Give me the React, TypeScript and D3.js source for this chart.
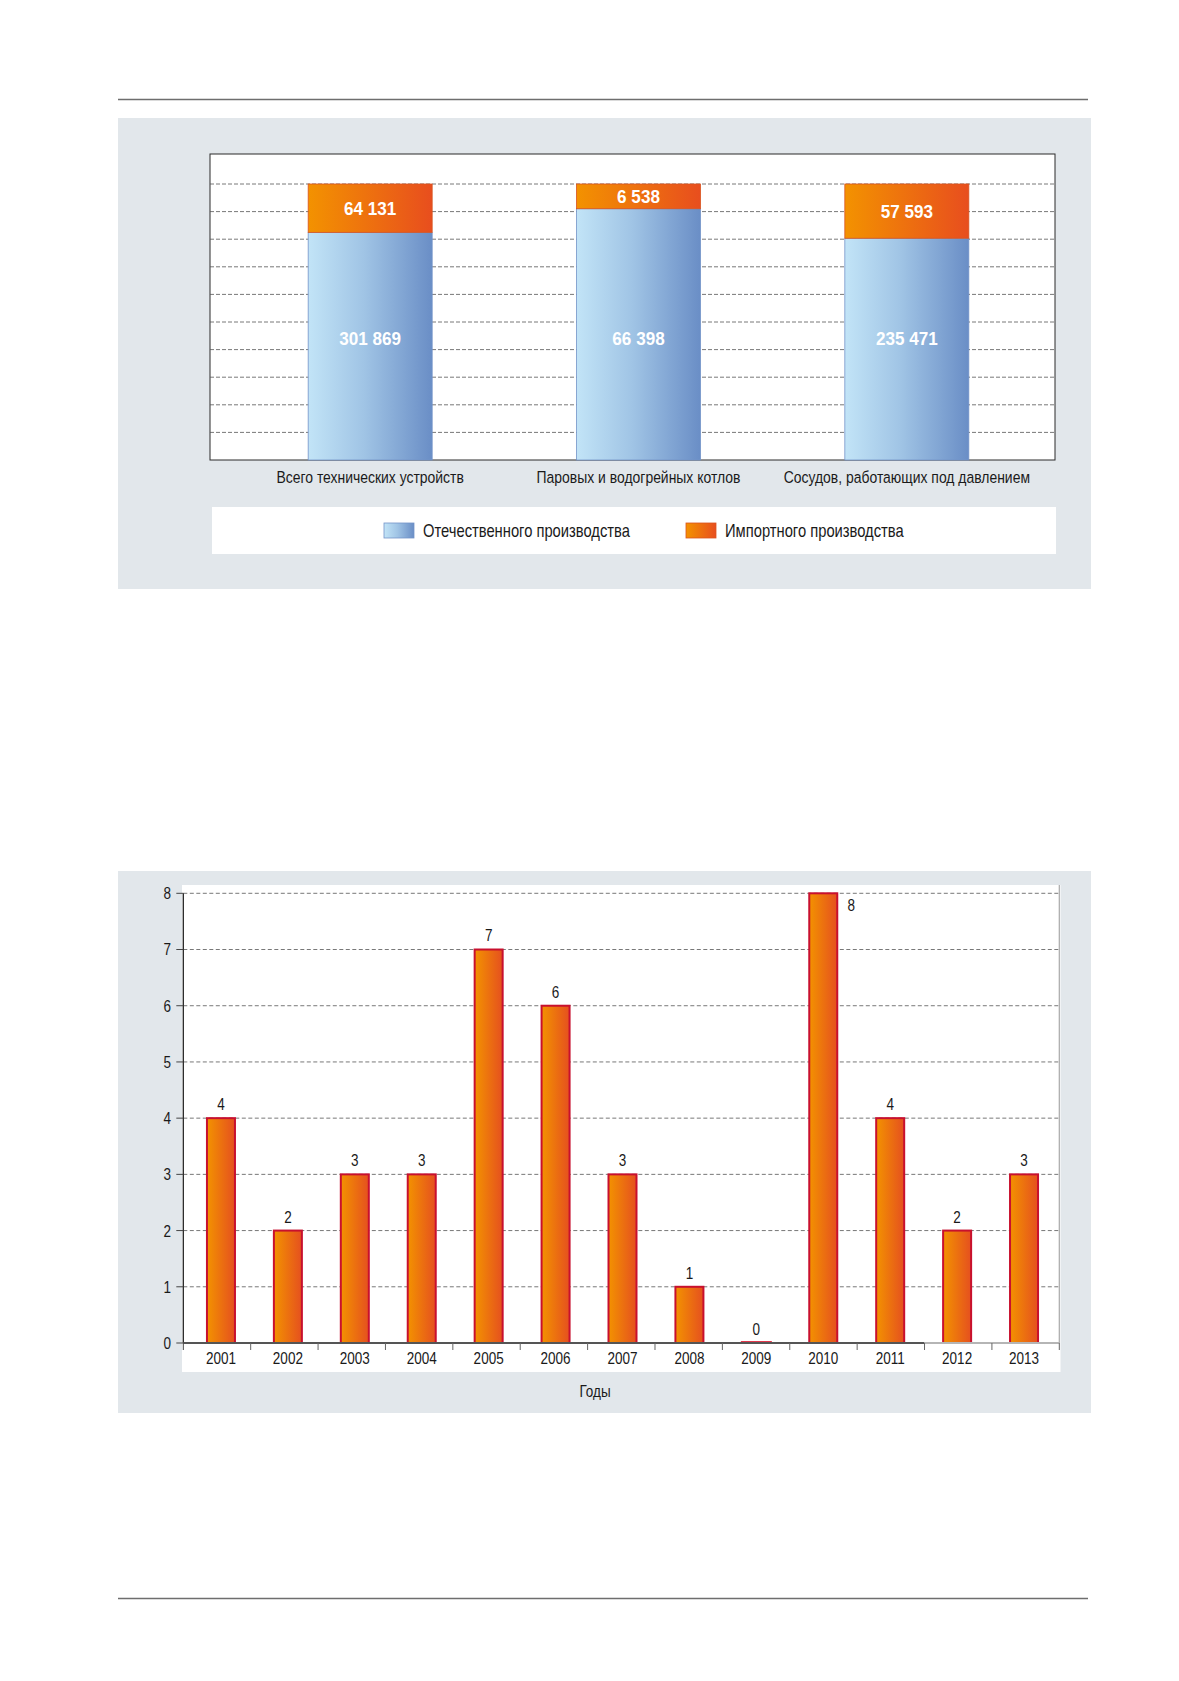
import * as React from 'react';
import * as d3 from 'd3';

// top chart: equipment by origin (100% stacked)
const categories = [
  'Всего технических устройств',
  'Паровых и водогрейных котлов',
  'Сосудов, работающих под давлением',
];
const domestic = [301869, 66398, 235471];
const imported = [64131, 6538, 57593];
const seriesNames = ['Отечественного производства', 'Импортного производства'];
const shareTicks = [0.1, 0.2, 0.3, 0.4, 0.5, 0.6, 0.7, 0.8, 0.9, 1];

// bottom chart: count by year
const years = ['2001', '2002', '2003', '2004', '2005', '2006', '2007', '2008', '2009', '2010', '2011', '2012', '2013'];
const counts = [4, 2, 3, 3, 7, 6, 3, 1, 0, 8, 4, 2, 3];
const countTicks = [0, 1, 2, 3, 4, 5, 6, 7, 8];
const xTitle = 'Годы';

const FONT = '"Liberation Sans", Arial, sans-serif';
const SX = 0.82; // condensed look
const PANEL = '#e2e7eb';
const INK = '#1a1a1a';

const fmt = d3.formatLocale({ decimal: ',', thousands: ' ', grouping: [3], currency: ['', ''] }).format(',d');

// narrow text: squeeze horizontally around the anchor point
function NText(props: { x: number; y: number; size: number; anchor?: string; fill?: string; weight?: string; sx?: number; children: React.ReactNode }) {
  const { x, y, size, anchor = 'start', fill = INK, weight = 'normal', sx = SX, children } = props;
  return (
    <text
      transform={`translate(${x},${y}) scale(${sx},1)`}
      dy="0.36em"
      textAnchor={anchor}
      fill={fill}
      fontFamily={FONT}
      fontWeight={weight}
      fontSize={size}
    >
      {children}
    </text>
  );
}

function TopChart() {
  const plot = { left: 210, right: 1055, top: 154, bottom: 460 };
  const x = d3.scalePoint<string>().domain(categories).range([236, 1041]).padding(0.5);
  const y = d3.scaleLinear().domain([0, 1]).range([460, 184]);
  const barW = 124;
  const totals = domestic.map((d, i) => d + imported[i]);

  return (
    <g>
      <rect x={118} y={118} width={973} height={471} fill={PANEL} />
      <rect x={plot.left} y={plot.top} width={plot.right - plot.left} height={plot.bottom - plot.top} fill="#fff" stroke="#2b2b2b" strokeWidth={1} />
      {shareTicks.map(t => (
        <line key={t} x1={plot.left} x2={plot.right} y1={y(t)} y2={y(t)} stroke="#555" strokeWidth={0.8} strokeDasharray="4,2" />
      ))}
      {categories.map((c, i) => {
        const cx = x(c) as number;
        const share = domestic[i] / totals[i];
        const yTop = y(1);
        const ySplit = y(share);
        const yBase = y(0);
        return (
          <g key={c}>
            <rect x={cx - barW / 2} y={ySplit} width={barW} height={yBase - ySplit} fill="url(#gBlue)" stroke="#7393c8" strokeWidth={0.8} />
            <rect x={cx - barW / 2} y={yTop} width={barW} height={ySplit - yTop} fill="url(#gOrange)" stroke="#d9531f" strokeWidth={0.8} />
            <NText x={cx} y={(yTop + ySplit) / 2} anchor="middle" fill="#fff" weight="bold" size={18} sx={0.95}>
              {fmt(imported[i])}
            </NText>
            <NText x={cx} y={y(0.44)} anchor="middle" fill="#fff" weight="bold" size={18} sx={0.95}>
              {fmt(domestic[i])}
            </NText>
            <NText x={cx} y={477} anchor="middle" size={17}>
              {c}
            </NText>
          </g>
        );
      })}
      {/* legend */}
      <rect x={212} y={507} width={844} height={47} fill="#fff" />
      <rect x={384} y={523} width={30} height={15} fill="url(#gBlue)" stroke="#7393c8" strokeWidth={0.8} />
      <NText x={423} y={531} size={18}>{seriesNames[0]}</NText>
      <rect x={686} y={523} width={30} height={15} fill="url(#gOrange)" stroke="#d9531f" strokeWidth={0.8} />
      <NText x={725} y={531} size={18}>{seriesNames[1]}</NText>
    </g>
  );
}

function BottomChart() {
  const left = 183.3;
  const right = 1059.3;
  const xTick = d3.scaleBand<string>().domain(years).range([left, right]);
  const x = d3.scaleBand<string>().domain(years).range([187.5, 1057.5]);
  const y = d3.scaleLinear().domain([0, 8]).range([1343, 893.3]);
  const barW = 28;
  const yMax = y.domain()[1];

  return (
    <g>
      <rect x={118} y={871} width={973} height={542} fill={PANEL} />
      <rect x={182} y={885} width={878.5} height={487} fill="#fff" />
      {countTicks.filter(t => t > 0).map(t => (
        <line key={t} x1={left} x2={right} y1={y(t)} y2={y(t)} stroke="#555" strokeWidth={0.8} strokeDasharray="4,2.5" />
      ))}
      {/* right border */}
      <line x1={right} x2={right} y1={885} y2={y(0)} stroke="#a9a9a9" strokeWidth={1.2} />
      {/* y axis */}
      <line x1={left} x2={left} y1={y(8)} y2={y(0)} stroke="#222" strokeWidth={1.3} />
      {countTicks.map(t => (
        <g key={t}>
          <line x1={left - 7} x2={left} y1={y(t)} y2={y(t)} stroke="#444" strokeWidth={1} />
          <NText x={171} y={y(t)} anchor="end" size={16.5}>{t}</NText>
        </g>
      ))}
      {/* bars */}
      {years.map((yr, i) => {
        const cx = (x(yr) as number) + x.bandwidth() / 2;
        const v = counts[i];
        const top = y(v);
        const atMax = v === yMax;
        return (
          <g key={yr}>
            {v > 0 ? (
              <rect x={cx - barW / 2} y={top} width={barW} height={y(0) - top} fill="url(#gBar)" stroke="#c8102e" strokeWidth={2} />
            ) : (
              <line x1={cx - barW / 2 - 1.5} x2={cx + barW / 2 + 1.5} y1={y(0) - 0.5} y2={y(0) - 0.5} stroke="#e2384c" strokeWidth={3} />
            )}
            <NText x={atMax ? cx + barW / 2 + 14 : cx} y={atMax ? top + 12 : top - 14} anchor="middle" size={16.5}>
              {v}
            </NText>
            <NText x={cx} y={1358} anchor="middle" size={16.5}>{yr}</NText>
          </g>
        );
      })}
      {/* x axis */}
      <line x1={left} x2={xTick('2012') as number} y1={y(0)} y2={y(0)} stroke="#555" strokeWidth={2} />
      <line x1={xTick('2012') as number} x2={right} y1={y(0)} y2={y(0)} stroke="#b5b5b5" strokeWidth={2} />
      {years.map(yr => (
        <line key={yr} x1={(xTick(yr) as number) + xTick.bandwidth()} x2={(xTick(yr) as number) + xTick.bandwidth()} y1={y(0)} y2={y(0) + 7} stroke="#666" strokeWidth={1} />
      ))}
      <line x1={left} x2={left} y1={y(0)} y2={y(0) + 7} stroke="#444" strokeWidth={1} />
      <NText x={595} y={1391} anchor="middle" size={16.5}>{xTitle}</NText>
    </g>
  );
}

export default function App() {
  return (
    <svg width={1179} height={1681} style={{ position: 'absolute', left: 0, top: 0, background: '#fff' }}>
      <defs>
        <linearGradient id="gBlue" x1="0" x2="1" y1="0" y2="0">
          <stop offset="0" stopColor="#c2e4f7" />
          <stop offset="0.45" stopColor="#a0c4e5" />
          <stop offset="1" stopColor="#6a8ec6" />
        </linearGradient>
        <linearGradient id="gOrange" x1="0" x2="1" y1="0" y2="0">
          <stop offset="0" stopColor="#f39200" />
          <stop offset="1" stopColor="#e84e1e" />
        </linearGradient>
        <linearGradient id="gBar" x1="0" x2="1" y1="0" y2="0">
          <stop offset="0" stopColor="#f39200" />
          <stop offset="1" stopColor="#e5501f" />
        </linearGradient>
      </defs>
      <line x1={118} x2={1088} y1={99.5} y2={99.5} stroke="#6e6e6e" strokeWidth={1.6} />
      <TopChart />
      <BottomChart />
      <line x1={118} x2={1088} y1={1598.5} y2={1598.5} stroke="#6e6e6e" strokeWidth={1.6} />
    </svg>
  );
}
